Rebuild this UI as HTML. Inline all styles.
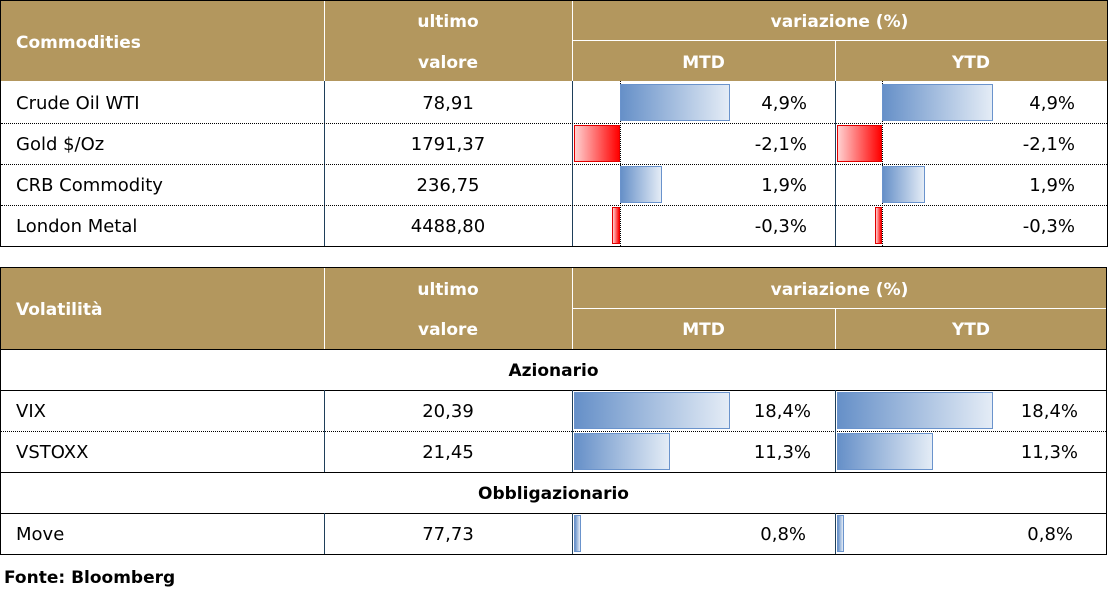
<!DOCTYPE html>
<html><head><meta charset="utf-8"><style>
body{margin:0;width:1108px;height:597px;background:#fff;position:relative;overflow:hidden;font-family:"DejaVu Sans","Liberation Sans",sans-serif}
div{position:absolute;box-sizing:border-box}
.h{background:#b3975e}
.t{color:#000;font-size:18px;line-height:20px;white-space:nowrap;transform:translateY(1px)}
.w{color:#fff;font-weight:bold;font-size:17px;line-height:20px;white-space:nowrap;transform:translateY(1px)}
.c{text-align:center}
.r{text-align:right}
.vl{width:1px;background:#1f3f5a}
.wl{background:#fff}
.dl{height:0;border-top:1px dotted #000}
.da{width:0;border-left:1px dotted #000}
.bb{background:linear-gradient(to right,#6690c8,#e4ecf6);border:1px solid #6a93cc}
.rb{background:linear-gradient(to right,#ffd0d0,#ff0000);border:1px solid #e00000}
.sl{height:1px;background:#000}
</style></head><body>
<!-- TABLE 1 -->
<div class="h" style="left:0;top:0;width:1108px;height:81px"></div>
<div style="left:0;top:0;width:1108px;height:247px;border:1px solid #000"></div>
<div class="wl" style="left:324px;top:1px;width:1px;height:80px"></div>
<div class="wl" style="left:572px;top:1px;width:1px;height:80px"></div>
<div class="wl" style="left:572px;top:40px;width:535px;height:1px"></div>
<div class="wl" style="left:835px;top:41px;width:1px;height:40px"></div>
<div class="w" style="left:16px;top:32px">Commodities</div>
<div class="w c" style="left:324px;width:248px;top:11px">ultimo</div>
<div class="w c" style="left:324px;width:248px;top:52px">valore</div>
<div class="w c" style="left:572px;width:535px;top:11px">variazione (%)</div>
<div class="w c" style="left:572px;width:263px;top:52px">MTD</div>
<div class="w c" style="left:835px;width:272px;top:52px">YTD</div>
<div class="vl" style="left:324px;top:81px;height:165px"></div>
<div class="vl" style="left:572px;top:81px;height:165px"></div>
<div class="vl" style="left:835px;top:81px;height:165px"></div>
<div class="dl" style="left:1px;top:123px;width:1106px"></div>
<div class="dl" style="left:1px;top:164px;width:1106px"></div>
<div class="dl" style="left:1px;top:205px;width:1106px"></div>
<div class="da" style="left:620px;top:81px;height:165px"></div>
<div class="da" style="left:882px;top:81px;height:165px"></div>
<!-- bars -->
<div class="bb" style="left:620px;top:84px;width:110px;height:37px"></div>
<div class="rb" style="left:574px;top:125px;width:46px;height:37px"></div>
<div class="bb" style="left:620px;top:166px;width:42px;height:37px"></div>
<div class="rb" style="left:612px;top:207px;width:8px;height:37px"></div>
<div class="bb" style="left:882px;top:84px;width:111px;height:37px"></div>
<div class="rb" style="left:837px;top:125px;width:45px;height:37px"></div>
<div class="bb" style="left:882px;top:166px;width:43px;height:37px"></div>
<div class="rb" style="left:875px;top:207px;width:7px;height:37px"></div>
<!-- text -->
<div class="t" style="left:16px;top:93px">Crude Oil WTI</div>
<div class="t" style="left:16px;top:134px">Gold $/Oz</div>
<div class="t" style="left:16px;top:175px">CRB Commodity</div>
<div class="t" style="left:16px;top:216px">London Metal</div>
<div class="t c" style="left:324px;width:248px;top:93px">78,91</div>
<div class="t c" style="left:324px;width:248px;top:134px">1791,37</div>
<div class="t c" style="left:324px;width:248px;top:175px">236,75</div>
<div class="t c" style="left:324px;width:248px;top:216px">4488,80</div>
<div class="t r" style="left:640px;width:167px;top:93px">4,9%</div>
<div class="t r" style="left:640px;width:167px;top:134px">-2,1%</div>
<div class="t r" style="left:640px;width:167px;top:175px">1,9%</div>
<div class="t r" style="left:640px;width:167px;top:216px">-0,3%</div>
<div class="t r" style="left:900px;width:175px;top:93px">4,9%</div>
<div class="t r" style="left:900px;width:175px;top:134px">-2,1%</div>
<div class="t r" style="left:900px;width:175px;top:175px">1,9%</div>
<div class="t r" style="left:900px;width:175px;top:216px">-0,3%</div>

<!-- TABLE 2 -->
<div class="h" style="left:0;top:267px;width:1107px;height:82px"></div>
<div style="left:0;top:267px;width:1107px;height:288px;border:1px solid #000"></div>
<div class="wl" style="left:324px;top:268px;width:1px;height:81px"></div>
<div class="wl" style="left:572px;top:268px;width:1px;height:81px"></div>
<div class="wl" style="left:572px;top:308px;width:534px;height:1px"></div>
<div class="wl" style="left:835px;top:309px;width:1px;height:40px"></div>
<div class="w" style="left:16px;top:299px">Volatilità</div>
<div class="w c" style="left:324px;width:248px;top:279px">ultimo</div>
<div class="w c" style="left:324px;width:248px;top:319px">valore</div>
<div class="w c" style="left:572px;width:535px;top:279px">variazione (%)</div>
<div class="w c" style="left:572px;width:263px;top:319px">MTD</div>
<div class="w c" style="left:835px;width:272px;top:319px">YTD</div>
<div class="sl" style="left:0;top:349px;width:1107px"></div>
<div class="sl" style="left:0;top:390px;width:1107px"></div>
<div class="sl" style="left:0;top:472px;width:1107px"></div>
<div class="sl" style="left:0;top:513px;width:1107px"></div>
<div class="dl" style="left:1px;top:431px;width:1105px"></div>
<div class="vl" style="left:324px;top:390px;height:82px"></div>
<div class="vl" style="left:572px;top:390px;height:82px"></div>
<div class="vl" style="left:835px;top:390px;height:82px"></div>
<div class="vl" style="left:324px;top:513px;height:41px"></div>
<div class="vl" style="left:572px;top:513px;height:41px"></div>
<div class="vl" style="left:835px;top:513px;height:41px"></div>
<div class="t c" style="left:0;width:1107px;top:360px;font-weight:bold;font-size:17px">Azionario</div>
<div class="t c" style="left:0;width:1107px;top:483px;font-weight:bold;font-size:17px">Obbligazionario</div>
<div class="bb" style="left:574px;top:392px;width:156px;height:37px"></div>
<div class="bb" style="left:574px;top:433px;width:96px;height:37px"></div>
<div class="bb" style="left:574px;top:515px;width:7px;height:37px"></div>
<div class="bb" style="left:837px;top:392px;width:156px;height:37px"></div>
<div class="bb" style="left:837px;top:433px;width:96px;height:37px"></div>
<div class="bb" style="left:837px;top:515px;width:7px;height:37px"></div>
<div class="t" style="left:16px;top:401px">VIX</div>
<div class="t" style="left:16px;top:442px">VSTOXX</div>
<div class="t" style="left:16px;top:524px">Move</div>
<div class="t c" style="left:324px;width:248px;top:401px">20,39</div>
<div class="t c" style="left:324px;width:248px;top:442px">21,45</div>
<div class="t c" style="left:324px;width:248px;top:524px">77,73</div>
<div class="t r" style="left:640px;width:171px;top:401px">18,4%</div>
<div class="t r" style="left:640px;width:171px;top:442px">11,3%</div>
<div class="t r" style="left:640px;width:166px;top:524px">0,8%</div>
<div class="t r" style="left:900px;width:178px;top:401px">18,4%</div>
<div class="t r" style="left:900px;width:178px;top:442px">11,3%</div>
<div class="t r" style="left:900px;width:173px;top:524px">0,8%</div>
<div class="t" style="left:4px;top:567px;font-weight:bold;font-size:17px">Fonte: Bloomberg</div>
</body></html>
